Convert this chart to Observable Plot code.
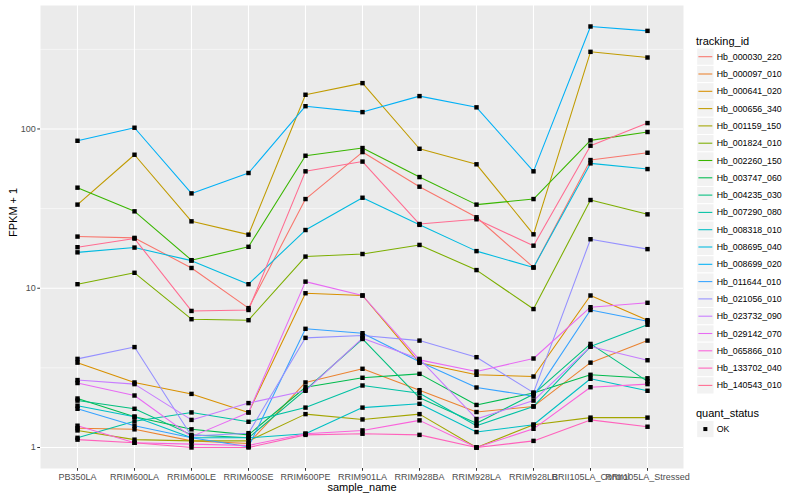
<!DOCTYPE html>
<html><head><meta charset="utf-8">
<script src="https://cdn.jsdelivr.net/npm/d3@7"></script>
<script src="https://cdn.jsdelivr.net/npm/@observablehq/plot@0.6"></script>
<style>
body{margin:0;background:#fff;font-family:"Liberation Sans",Arial,sans-serif;}
#wrap{position:relative;width:800px;height:500px;overflow:hidden;}
#legend{position:absolute;left:690px;top:0;}
</style></head>
<body><div id="wrap"><div id="chart"></div><div id="legend"></div></div>
<script>
const samples = ["PB350LA","RRIM600LA","RRIM600LE","RRIM600SE","RRIM600PE","RRIM901LA","RRIM928BA","RRIM928LA","RRIM928LB","RRII105LA_Control","RRII105LA_Stressed"];
const trackingIds = ["Hb_000030_220","Hb_000097_010","Hb_000641_020","Hb_000656_340","Hb_001159_150","Hb_001824_010","Hb_002260_150","Hb_003747_060","Hb_004235_030","Hb_007290_080","Hb_008318_010","Hb_008695_040","Hb_008699_020","Hb_011644_010","Hb_021056_010","Hb_023732_090","Hb_029142_070","Hb_065866_010","Hb_133702_040","Hb_140543_010"];
const colors = ["#F8766D","#EA8331","#D89000","#C09B00","#A3A500","#7CAE00","#39B600","#00BB4E","#00BF7D","#00C1A3","#00BFC4","#00BAE0","#00B0F6","#35A2FF","#9590FF","#C77CFF","#E76BF3","#FA62DB","#FF62BC","#FF6C91"];
const yTicks = [1, 10, 100];
const yMinorTicks = [3.1623, 31.623, 316.23];

const hb_000030_220 = [21.1, 20.7, 13.4, 7.5, 36.3, 71.6, 43.4, 27.9, 13.5, 63.8, 70.9];
const hb_000097_010 = [1.32, 1.30, 1.10, 1.06, 2.56, 3.12, 2.29, 1.67, 1.81, 3.41, 4.69];
const hb_000641_020 = [3.41, 2.56, 2.17, 1.66, 9.3, 9.0, 3.40, 2.86, 2.79, 9.0, 6.3];
const hb_000656_340 = [33.5, 68.9, 26.3, 21.7, 164, 194, 75.1, 60, 21.8, 305, 281];
const hb_001159_150 = [1.28, 1.12, 1.10, 1.10, 1.62, 1.50, 1.62, 1.0, 1.39, 1.54, 1.54];
const hb_001824_010 = [10.6, 12.5, 6.39, 6.3, 15.8, 16.4, 18.7, 13.0, 7.4, 35.8, 29.1];
const hb_002260_150 = [42.8, 30.4, 15.0, 18.2, 67.9, 75.9, 49.9, 33.5, 36.3, 84.8, 95.7];
const hb_003747_060 = [2.03, 1.56, 1.30, 1.20, 2.39, 2.74, 2.90, 1.85, 2.20, 2.86, 2.72];
const hb_004235_030 = [1.97, 1.75, 1.20, 1.15, 2.30, 4.80, 2.05, 1.42, 2.16, 4.47, 2.60];
const hb_007290_080 = [1.15, 1.46, 1.66, 1.45, 1.78, 2.45, 2.19, 1.37, 1.81, 4.30, 5.9];
const hb_008318_010 = [1.83, 1.56, 1.15, 1.15, 1.22, 1.78, 1.88, 1.25, 1.39, 2.70, 2.27];
const hb_008695_040 = [16.8, 18.0, 14.9, 10.6, 23.2, 37.0, 25.0, 17.1, 13.5, 60.8, 56.0];
const hb_008699_020 = [84.3, 101.8, 39.4, 52.9, 139, 127.6, 160.8, 136.7, 54.2, 440, 413];
const hb_011644_010 = [1.75, 1.37, 1.15, 1.01, 5.56, 5.22, 3.45, 2.38, 2.10, 7.3, 6.2];
const hb_021056_010 = [3.60, 4.27, 1.18, 1.23, 4.88, 5.05, 4.69, 3.69, 2.21, 20.3, 17.6];
const hb_023732_090 = [2.65, 2.50, 1.49, 1.90, 2.27, 4.86, 3.60, 1.51, 1.97, 4.30, 3.53];
const hb_029142_070 = [2.54, 2.12, 1.17, 1.66, 11.0, 9.0, 3.55, 3.0, 3.62, 7.6, 8.1];
const hb_065866_010 = [1.37, 1.07, 1.05, 1.03, 1.22, 1.28, 1.48, 1.0, 1.31, 2.39, 2.50];
const hb_133702_040 = [1.12, 1.07, 1.0, 1.0, 1.20, 1.22, 1.20, 1.0, 1.10, 1.49, 1.35];
const hb_140543_010 = [18.1, 20.5, 7.2, 7.3, 54.2, 62.4, 25.3, 27.1, 18.5, 78.5, 108.9];

const seriesValues = [hb_000030_220, hb_000097_010, hb_000641_020, hb_000656_340, hb_001159_150, hb_001824_010, hb_002260_150, hb_003747_060, hb_004235_030, hb_007290_080, hb_008318_010, hb_008695_040, hb_008699_020, hb_011644_010, hb_021056_010, hb_023732_090, hb_029142_070, hb_065866_010, hb_133702_040, hb_140543_010];

const data = [];
trackingIds.forEach((id, i) => samples.forEach((s, j) => data.push({id, sample: s, value: seriesValues[i][j]})));

const font = '"Liberation Sans", Arial, sans-serif';
const chart = Plot.plot({
  width: 800, height: 500,
  marginLeft: 40, marginRight: 117, marginTop: 5, marginBottom: 32,
  style: {fontFamily: font, fontSize: "9px", background: "white", color: "#4D4D4D"},
  x: {type: "point", domain: samples, padding: 0.6, label: null},
  y: {type: "log", domain: [0.738, 596], label: null},
  color: {domain: trackingIds, range: colors},
  marks: [
    Plot.frame({fill: "#EBEBEB", stroke: null}),
    Plot.gridY(yMinorTicks, {stroke: "white", strokeOpacity: 1, strokeWidth: 0.55}),
    Plot.gridY(yTicks, {stroke: "white", strokeOpacity: 1, strokeWidth: 1.1}),
    Plot.gridX(samples, {stroke: "white", strokeOpacity: 1, strokeWidth: 1.1}),
    Plot.line(data, {x: "sample", y: "value", z: "id", stroke: "id", strokeWidth: 1.07}),
    Plot.dot(data, {x: "sample", y: "value", fill: "black", stroke: null, r: 2.5, symbol: "square"}),
    Plot.axisY(yTicks, {tickSize: 2.75, tickPadding: 2, stroke: "#333333", fill: "#4D4D4D", tickFormat: d => String(d), label: null}),
    Plot.axisX(samples, {tickSize: 2.75, tickPadding: 2, stroke: "#333333", fill: "#4D4D4D", label: null}),
    Plot.text(["FPKM + 1"], {text: d => d, frameAnchor: "left", dx: -27, rotate: -90, fontSize: 11, fill: "black"}),
    Plot.text(["sample_name"], {text: d => d, frameAnchor: "bottom", dy: 22, fontSize: 11, fill: "black"})
  ]
});
document.getElementById("chart").appendChild(chart);

// legend
const lg = d3.select("#legend").append("svg").attr("width", 110).attr("height", 500)
  .style("font-family", font);
lg.append("text").attr("x", 6).attr("y", 44.5).attr("font-size", 11).attr("fill", "black").text("tracking_id");
const rowH = 17.3, top0 = 48.05;
trackingIds.forEach((id, i) => {
  const y = top0 + i * rowH;
  lg.append("rect").attr("x", 6.7).attr("y", y).attr("width", rowH).attr("height", rowH)
    .attr("fill", "#F2F2F2").attr("stroke", "white").attr("stroke-width", 1);
  lg.append("line").attr("x1", 8.4).attr("x2", 22.3).attr("y1", y + rowH / 2).attr("y2", y + rowH / 2)
    .attr("stroke", colors[i]).attr("stroke-width", 1.07);
  lg.append("text").attr("x", 26.7).attr("y", y + rowH / 2).attr("dy", "0.35em")
    .attr("font-size", 8.8).attr("fill", "black").text(id);
});
lg.append("text").attr("x", 6).attr("y", 416.5).attr("font-size", 11).attr("fill", "black").text("quant_status");
lg.append("rect").attr("x", 6.7).attr("y", 420.4).attr("width", rowH).attr("height", rowH)
  .attr("fill", "#F2F2F2").attr("stroke", "white");
lg.append("rect").attr("x", 6.7 + rowH / 2 - 2).attr("y", 420.4 + rowH / 2 - 2).attr("width", 4).attr("height", 4).attr("fill", "black");
lg.append("text").attr("x", 26.7).attr("y", 420.4 + rowH / 2).attr("dy", "0.35em").attr("font-size", 8.8).attr("fill", "black").text("OK");
</script></body></html>
